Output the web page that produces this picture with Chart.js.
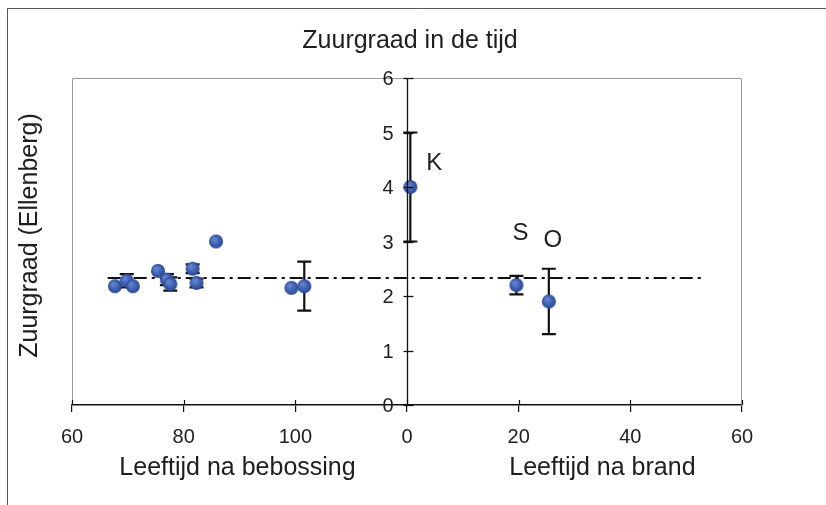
<!DOCTYPE html>
<html><head><meta charset="utf-8">
<script src="https://cdn.jsdelivr.net/npm/chart.js@4/dist/chart.umd.min.js"></script>
<style>html,body{margin:0;background:#fff}canvas{display:block}</style>
</head><body>
<canvas id="c" width="826" height="505"></canvas>
<script>
// Ellenberg acidity (Zuurgraad) against stand age after afforestation and after fire
const afforestAges   = [67.7, 69.8, 70.9, 75.4, 77.0, 77.6, 81.6, 82.3, 85.8, 99.3, 101.6];
const afforestValues = [2.18, 2.28, 2.18, 2.46, 2.30, 2.22, 2.50, 2.24, 3.00, 2.15, 2.18];
const afforestErrors = [0, 0.12, 0, 0, 0.10, 0.12, 0.08, 0.08, 0, 0, 0.45];

const fireSites  = ['K', 'S', 'O'];
const fireAges   = [0.6, 19.6, 25.4];
const fireValues = [4.0, 2.2, 1.9];
const fireErrors = [1.0, 0.17, 0.6];

const meanAcidity = 2.33;
const meanFromAfforestAge = 66.4;
const meanToFireAge = 52.8;

const xTickLabels = ['60', '80', '100', '0', '20', '40', '60'];
const yTickValues = [0, 1, 2, 3, 4, 5, 6];

// The shared x scale runs 0..120: afforestation ages 60..120 on the left half,
// fire ages 0..60 on the right half, with the y axis at the join.
const AFF_OFFSET = -60, FIRE_OFFSET = 60, JOIN = 60;

const pts = [];
const errs = [];
afforestAges.forEach((a, i) => {
  pts.push({x: a + AFF_OFFSET, y: afforestValues[i]});
  errs.push(afforestErrors[i]);
});
fireAges.forEach((a, i) => {
  pts.push({x: a + FIRE_OFFSET, y: fireValues[i], site: fireSites[i]});
  errs.push(fireErrors[i]);
});

function ball(r) {
  const s = Math.ceil(2 * r + 2);
  const c = document.createElement('canvas');
  c.width = c.height = s;
  const g = c.getContext('2d');
  const m = s / 2;
  const grad = g.createRadialGradient(m - r * 0.3, m - r * 0.35, r * 0.15, m, m, r);
  grad.addColorStop(0, '#6283cc');
  grad.addColorStop(0.6, '#3d5fae');
  grad.addColorStop(1, '#2a4590');
  g.fillStyle = grad;
  g.beginPath();
  g.arc(m, m, r, 0, Math.PI * 2);
  g.fill();
  return c;
}
const dot = ball(7);

const FONT = '"Liberation Sans", Arial, Helvetica, sans-serif';
const INK = '#1e1e1e';

const decor = {
  id: 'decor',
  beforeDatasetsDraw(chart) {
    const {ctx, scales: {x, y}} = chart;
    ctx.save();
    ctx.strokeStyle = '#111';
    ctx.lineWidth = 2.2;
    pts.forEach((p, i) => {
      const e = errs[i];
      if (!e) return;
      const px = x.getPixelForValue(p.x);
      const top = y.getPixelForValue(p.y + e);
      const bot = y.getPixelForValue(p.y - e);
      ctx.beginPath();
      ctx.moveTo(px, top); ctx.lineTo(px, bot);
      ctx.moveTo(px - 7, top); ctx.lineTo(px + 7, top);
      ctx.moveTo(px - 7, bot); ctx.lineTo(px + 7, bot);
      ctx.stroke();
    });
    ctx.restore();
  },
  afterDraw(chart) {
    const {ctx, chartArea: a, scales: {x, y}} = chart;
    ctx.save();
    // outer border
    ctx.strokeStyle = '#555';
    ctx.lineWidth = 1;
    ctx.beginPath();
    ctx.moveTo(7.5, 505); ctx.lineTo(7.5, 8.5); ctx.lineTo(826, 8.5);
    ctx.stroke();
    // plot frame
    ctx.strokeStyle = '#9a9a9a';
    ctx.beginPath();
    ctx.moveTo(a.left + 0.5, a.bottom); ctx.lineTo(a.left + 0.5, a.top + 0.5);
    ctx.lineTo(a.right - 0.5, a.top + 0.5); ctx.lineTo(a.right - 0.5, a.bottom);
    ctx.stroke();

    // upper halves of the x ticks
    ctx.strokeStyle = '#111';
    ctx.lineWidth = 1.2;
    x.ticks.forEach(t => {
      const px = Math.round(x.getPixelForValue(t.value)) + 0.5;
      ctx.beginPath(); ctx.moveTo(px, a.bottom); ctx.lineTo(px, a.bottom - 5); ctx.stroke();
    });

    // central y axis
    const ax = Math.round(x.getPixelForValue(JOIN)) + 0.5;
    ctx.lineWidth = 1.3;
    ctx.beginPath(); ctx.moveTo(ax, a.bottom); ctx.lineTo(ax, y.getPixelForValue(6)); ctx.stroke();
    ctx.font = '20px ' + FONT;
    ctx.fillStyle = INK;
    ctx.textAlign = 'right';
    ctx.textBaseline = 'middle';
    yTickValues.forEach(v => {
      const py = Math.round(y.getPixelForValue(v)) + 0.5;
      ctx.beginPath(); ctx.moveTo(ax - 4, py); ctx.lineTo(ax + 6, py); ctx.stroke();
      ctx.fillText(String(v), ax - 14, py + 1);
    });

    // site letters next to the fire points
    ctx.font = '24px ' + FONT;
    ctx.textAlign = 'center';
    const off = {K: [24, -24], S: [4, -52], O: [4, -61]};
    pts.forEach(p => {
      if (!p.site) return;
      const o = off[p.site];
      ctx.fillText(p.site, x.getPixelForValue(p.x) + o[0], y.getPixelForValue(p.y) + o[1]);
    });

    // axis titles
    ctx.font = '25px ' + FONT;
    ctx.textBaseline = 'middle';
    ctx.fillText('Leeftijd na bebossing', x.getPixelForValue(30) - 2, 468);
    ctx.fillText('Leeftijd na brand', x.getPixelForValue(95), 468);
    ctx.translate(30, (a.top + a.bottom) / 2 - 6);
    ctx.rotate(-Math.PI / 2);
    ctx.fillText('Zuurgraad (Ellenberg)', 0, 0);
    ctx.setTransform(1, 0, 0, 1, 0, 0);

    // title
    ctx.font = '25px ' + FONT;
    ctx.fillText('Zuurgraad in de tijd', 410, 41);
    ctx.restore();
  }
};

new Chart(document.getElementById('c'), {
  type: 'scatter',
  data: {
    datasets: [
      {
        label: 'Zuurgraad',
        data: pts,
        pointStyle: dot,
        pointRadius: 7,
        pointHoverRadius: 7
      },
      {
        type: 'line',
        label: 'Gemiddelde',
        data: [
          {x: meanFromAfforestAge + AFF_OFFSET, y: meanAcidity},
          {x: meanToFireAge + FIRE_OFFSET, y: meanAcidity}
        ],
        showLine: true,
        borderColor: '#111',
        borderWidth: 2,
        borderDash: [13, 5, 3, 5],
        pointRadius: 0,
        fill: false
      }
    ]
  },
  options: {
    responsive: false,
    devicePixelRatio: 1,
    animation: false,
    events: [],
    layout: {padding: {left: 72, right: 84, top: 78, bottom: 0}, autoPadding: false},
    plugins: {legend: {display: false}, title: {display: false}, tooltip: {enabled: false}},
    scales: {
      x: {
        type: 'linear',
        min: 0, max: 120,
        afterFit: s => { s.height = 100; },
        border: {display: true, color: '#111', width: 1.5},
        grid: {drawOnChartArea: false, drawTicks: true, tickLength: 7, color: '#111', lineWidth: 1.2},
        ticks: {
          stepSize: 20,
          color: INK,
          padding: 13,
          font: {family: FONT, size: 20},
          callback: (v, i) => xTickLabels[i]
        }
      },
      y: {
        type: 'linear',
        min: 0, max: 6,
        display: false
      }
    }
  },
  plugins: [decor]
});
</script>
</body></html>
